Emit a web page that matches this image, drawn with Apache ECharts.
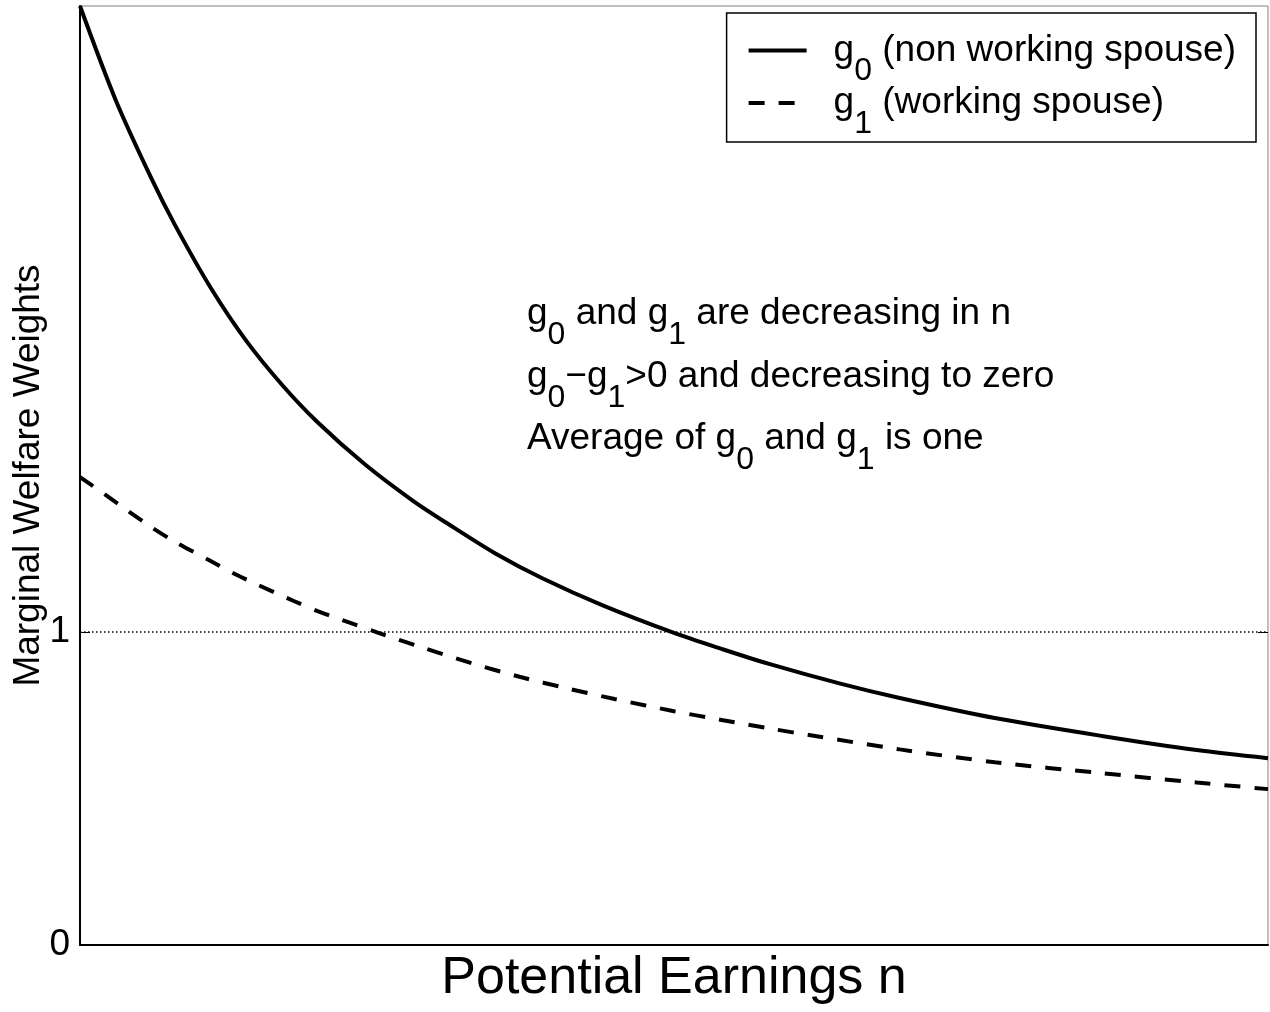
<!DOCTYPE html>
<html>
<head>
<meta charset="utf-8">
<title>Marginal Welfare Weights</title>
<script src="https://cdn.jsdelivr.net/npm/echarts@6/dist/echarts.min.js"></script>
<style>
  html, body { margin: 0; padding: 0; background: #fff; }
  #chart { width: 1270px; height: 1012px; }
</style>
</head>
<body>
<div id="chart"></div>
<script>
// potential earnings n (0..100, axis has no tick labels)
const n0 = [0, 3, 6, 8, 11, 14, 17, 20, 24, 28, 31, 35, 39, 44, 50, 54, 58, 64, 69, 77, 86, 94, 100];
const g0 = [3.00, 2.70, 2.45, 2.30, 2.10, 1.93, 1.79, 1.67, 1.535, 1.42, 1.345, 1.25, 1.17, 1.085, 0.997, 0.946, 0.898, 0.835, 0.789, 0.725, 0.668, 0.623, 0.597];
const n1 = [0, 2, 4, 6, 8, 11, 13, 15, 18, 20, 23, 25, 29, 33, 37, 41, 45, 50, 54, 58, 62, 69, 77, 86, 94, 100];
const g1 = [1.495, 1.442, 1.388, 1.335, 1.288, 1.227, 1.186, 1.150, 1.099, 1.067, 1.026, 0.999, 0.948, 0.900, 0.857, 0.820, 0.786, 0.747, 0.719, 0.692, 0.667, 0.625, 0.584, 0.549, 0.519, 0.498];
const yTickLabels = [0, 1];
const refLevel = 1;

const legendLabels = {
  g0: '{m1|g}{s|0}{m| (non working spouse)}',
  g1: '{m1|g}{s|1}{m| (working spouse)}'
};
const notes = [
  '{m|g}{s|0}{m| and g}{s|1}{m| are decreasing in n}',
  '{m|g}{s|0}{m|−g}{s|1}{m|>0 and decreasing to zero}',
  '{m|Average of g}{s|0}{m| and g}{s|1}{m| is one}'
];

const FONT = '"Liberation Sans", Arial, Helvetica, sans-serif';

let myChart = echarts.init(document.getElementById('chart'));

function pairs(xs, ys) {
  return xs.map((x, i) => [x, ys[i]]);
}

// subscript: short token pinned to the bottom of a tall line
let labelRich = {
  m: { fontSize: 37, lineHeight: 63, fontFamily: FONT, color: '#000' },
  m1: { fontSize: 37, lineHeight: 63, fontFamily: FONT, color: '#000', padding: [0, 0, 0, 22] },
  s: { fontSize: 32, lineHeight: 1, height: 21, fontFamily: FONT, color: '#000', verticalAlign: 'bottom' }
};
let graphicRich = {
  m: { fontSize: 37, lineHeight: 63, fontFamily: FONT, fill: '#000' },
  s: { fontSize: 32, lineHeight: 1, height: 21, fontFamily: FONT, fill: '#000', verticalAlign: 'bottom' }
};

let noteY = [314, 377, 439];

let option = {
  backgroundColor: '#ffffff',
  animation: false,
  grid: {
    left: 80,
    right: 2,
    top: 6,
    bottom: 67,
    show: true,
    borderColor: '#808080',
    borderWidth: 1,
    containLabel: false,
    outerBoundsMode: 'none'
  },
  legend: {
    orient: 'vertical',
    right: 14,
    top: 13,
    padding: [19, 20, 2, 20],
    itemWidth: 58,
    itemHeight: 20,
    itemGap: -3,
    borderColor: '#000',
    borderWidth: 1.5,
    backgroundColor: '#fff',
    selectedMode: false,
    itemStyle: { opacity: 0 },
    lineStyle: { width: 4, color: '#000' },
    data: ['g0', 'g1'],
    formatter: function (name) {
      return legendLabels[name];
    },
    textStyle: {
      fontSize: 37,
      fontFamily: FONT,
      color: '#000',
      rich: labelRich
    }
  },
  xAxis: {
    type: 'value',
    min: 0,
    max: 100,
    name: 'Potential Earnings n',
    nameLocation: 'middle',
    nameGap: 8,
    nameMoveOverlap: false,
    nameTextStyle: { fontSize: 52, fontFamily: FONT, color: '#000' },
    axisLine: { show: true, onZero: false, lineStyle: { color: '#000', width: 2 } },
    axisTick: { show: false },
    axisLabel: { show: false },
    splitLine: { show: false }
  },
  yAxis: [
    {
      type: 'value',
      min: 0,
      max: 3,
      interval: 1,
      name: 'Marginal Welfare Weights',
      nameLocation: 'middle',
      nameGap: 33,
      nameMoveOverlap: false,
      nameTextStyle: { fontSize: 37, fontFamily: FONT, color: '#000' },
      axisLine: { show: true, lineStyle: { color: '#000', width: 2 } },
      axisTick: {
        show: true,
        inside: true,
        length: 10,
        customValues: yTickLabels,
        lineStyle: { color: '#000', width: 1 }
      },
      axisLabel: {
        fontSize: 37,
        fontFamily: FONT,
        color: '#000',
        margin: 10,
        customValues: yTickLabels,
        formatter: function (v) {
          return yTickLabels.indexOf(v) >= 0 ? String(v) : '';
        }
      },
      splitLine: { show: false }
    },
    {
      type: 'value',
      min: 0,
      max: 3,
      interval: 1,
      position: 'right',
      axisLine: { show: false },
      axisTick: {
        show: true,
        inside: true,
        length: 10,
        customValues: [refLevel],
        lineStyle: { color: '#000', width: 1 }
      },
      axisLabel: { show: false },
      splitLine: { show: false }
    }
  ],
  series: [
    {
      name: 'g0',
      type: 'line',
      data: pairs(n0, g0),
      symbol: 'none',
      smooth: 0.3,
      lineStyle: { color: '#000', width: 4 },
      itemStyle: { color: '#000' },
      z: 3,
      markLine: {
        silent: true,
        symbol: 'none',
        label: { show: false },
        lineStyle: { color: '#000', width: 1.5, type: [1.5, 2.5] },
        data: [{ yAxis: refLevel }]
      }
    },
    {
      name: 'g1',
      type: 'line',
      data: pairs(n1, g1),
      symbol: 'none',
      smooth: 0.3,
      lineStyle: { color: '#000', width: 4, type: [16, 14] },
      itemStyle: { color: '#000' },
      z: 3
    }
  ],
  graphic: notes.map(function (t, i) {
    return {
      type: 'text',
      x: 527,
      y: noteY[i],
      silent: true,
      style: {
        text: t,
        rich: graphicRich,
        fontSize: 37,
        fontFamily: FONT,
        fill: '#000',
        align: 'left',
        verticalAlign: 'middle'
      }
    };
  })
};

myChart.setOption(option);
window.onresize = function () {
  myChart.resize();
};
</script>
</body>
</html>
